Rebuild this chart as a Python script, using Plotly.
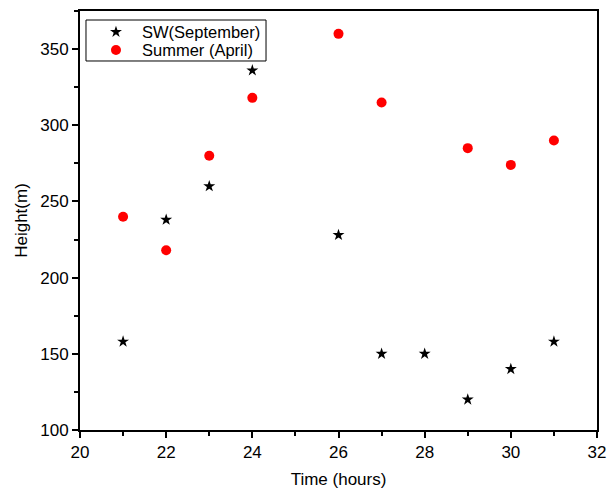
import plotly.graph_objects as go

sw_x = [21, 22, 23, 24, 26, 27, 28, 29, 30, 31]
sw_y = [158, 238, 260, 336, 228, 150, 150, 120, 140, 158]
su_x = [21, 22, 23, 24, 26, 27, 29, 30, 31]
su_y = [240, 218, 280, 318, 360, 315, 285, 274, 290]

legend_labels = ["SW(September)", "Summer (April)"]
legend_symbols = ["star", "circle"]
legend_colors = ["black", "red"]
legend_sizes = [9, 10]

font = "Liberation Sans, Arial, sans-serif"

fig = go.Figure()
fig.add_trace(go.Scatter(x=sw_x, y=sw_y, mode="markers", name=legend_labels[0], showlegend=False,
                         marker=dict(symbol=legend_symbols[0], size=legend_sizes[0], color=legend_colors[0])))
fig.add_trace(go.Scatter(x=su_x, y=su_y, mode="markers", name=legend_labels[1], showlegend=False,
                         marker=dict(symbol=legend_symbols[1], size=legend_sizes[1], color=legend_colors[1])))

# manual legend (compact box like the reference), on an overlay axis spanning the plot area [0, 1]
leg_x0, leg_x1, leg_y0, leg_y1 = 0.0116, 0.3598, 0.8807, 0.9785
leg_mx, leg_tx = 0.0696, 0.116
leg_rows = [0.950, 0.907]
for i in range(2):
    fig.add_trace(go.Scatter(x=[leg_mx], y=[leg_rows[i]], xaxis="x2", yaxis="y2", mode="markers",
                             showlegend=False, hoverinfo="skip",
                             marker=dict(symbol=legend_symbols[i], size=legend_sizes[i], color=legend_colors[i])))
    fig.add_annotation(x=leg_tx, y=leg_rows[i], xref="x domain", yref="y domain", text=legend_labels[i],
                       showarrow=False, xanchor="left", yanchor="middle",
                       font=dict(family=font, size=16.5, color="black"))
fig.add_shape(type="rect", xref="x domain", yref="y domain", x0=leg_x0, x1=leg_x1, y0=leg_y0, y1=leg_y1,
              line=dict(color="black", width=1), fillcolor="white", layer="below")

axis_common = dict(showline=True, linecolor="black", linewidth=2, mirror=True,
                   ticks="outside", ticklen=6, tickwidth=1.5, tickcolor="black",
                   showgrid=False, zeroline=False, automargin=False,
                   tickfont=dict(family=font, size=17, color="black"),
                   minor=dict(ticks="outside", ticklen=4, tickwidth=1.5, tickcolor="black"))
fig.update_xaxes(range=[20, 32], dtick=2, tick0=20,
                 title=dict(text="Time (hours)", font=dict(family=font, size=17, color="black"), standoff=12),
                 **axis_common, selector=dict(anchor="y"))
fig.update_layout(
    xaxis=dict(range=[20, 32], dtick=2, tick0=20,
               title=dict(text="Time (hours)", font=dict(family=font, size=17, color="black"), standoff=12),
               **axis_common),
    yaxis=dict(range=[100, 375], dtick=50, tick0=100,
               title=dict(text="Height(m)", font=dict(family=font, size=17, color="black"), standoff=8),
               **axis_common),
    xaxis2=dict(overlaying="x", range=[0, 1], visible=False, fixedrange=True),
    yaxis2=dict(overlaying="y", range=[0, 1], visible=False, fixedrange=True),
)
fig.update_layout(xaxis=dict(minor=dict(dtick=1)), yaxis=dict(minor=dict(dtick=25)))

fig.update_layout(width=608, height=491, margin=dict(l=80, r=11, t=11, b=61),
                  plot_bgcolor="white", paper_bgcolor="white", showlegend=False)
fig.write_html("out.html")
